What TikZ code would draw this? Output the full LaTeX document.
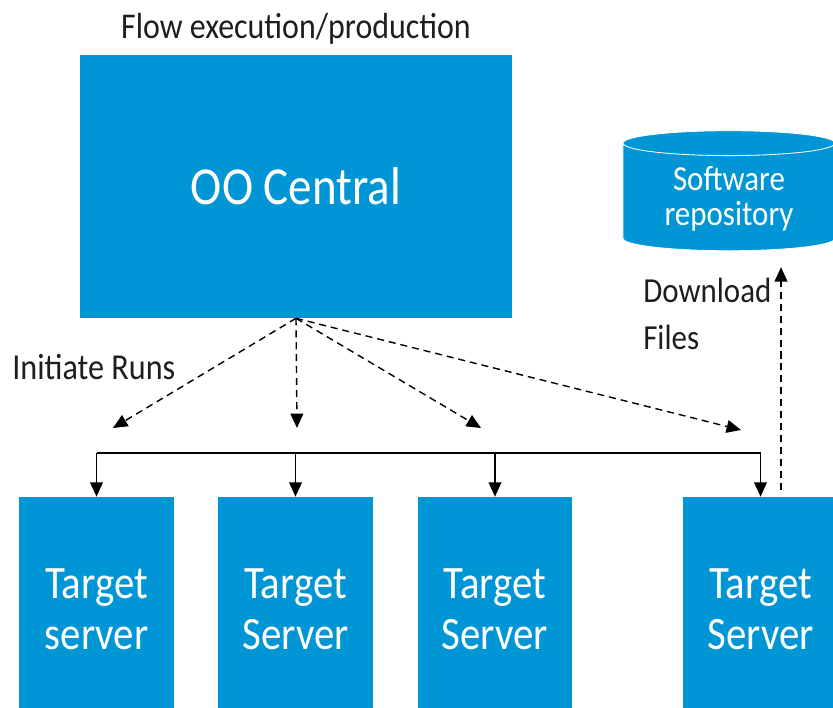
\documentclass[tikz,border=0pt]{standalone}
\usepackage{fontspec}
\setmainfont{Carlito}[FakeStretch=0.88]
\usetikzlibrary{positioning, arrows.meta, shapes.geometric}
\definecolor{hpblue}{RGB}{0,150,214}
\definecolor{txtgray}{RGB}{30,30,30}
\tikzset{
    block/.style={shape=rectangle, fill=hpblue, text=white, align=center},
    server/.style={block, minimum width=3.85cm, minimum height=5.6cm, font=\fontsize{33}{36}\selectfont},
    store/.style={cylinder, shape border rotate=90, aspect=0.18, draw=white, line width=0.6pt,
        fill=hpblue, text=white, align=center, minimum width=5.3cm, minimum height=3.0cm,
        font=\fontsize{25}{25}\selectfont},
    runarrow/.style={draw, dash pattern=on 5pt off 3.5pt, line width=1pt, -{Triangle[length=3.6mm, width=3.2mm]}},
    busarrow/.style={draw, line width=1pt, -{Triangle[length=3.6mm, width=3.2mm]}},
    note/.style={text=txtgray, font=\fontsize{26}{33}\selectfont, inner sep=0pt}
}

\begin{document}
\begin{tikzpicture}[x=0.025cm, y=-0.025cm]
    \useasboundingbox (0,0) rectangle (833,708);

    % nodes
    \node [block, minimum width=10.8cm, minimum height=6.575cm,
           font=\fontsize{38}{40}\selectfont] at (296,186.5) (central) {OO Central};
    \node [note, above=0.25cm of central, font=\fontsize{25.8}{30}\selectfont] (flow) {Flow execution/production};
    \node [store] at (729,199) (repo) {Software\\repository};

    \node [server] at (96.5,609) (t1) {Target\\server};
    \node [server] at (295.5,609) (t2) {Target\\Server};
    \node [server] at (495,609) (t3) {Target\\Server};
    \node [server] at (760.5,609) (t4) {Target\\Server};

    \node [note, anchor=west] at (12,367) (initiate) {Initiate Runs};
    \node [note, anchor=north west, align=left, font=\fontsize{25}{33}\selectfont]
          at (643,278) (download) {Download\\Files};

    % arrow ends
    \coordinate (r1) at (113,428);
    \coordinate (r2) at (297,428);
    \coordinate (r3) at (481,428);
    \coordinate (r4) at (741,430);
    \coordinate (bus) at (0,453);
    \coordinate (dl) at (781,490);

    % draw arrows
    \begin{scope}[runarrow]
        \foreach \r in {r1,r2,r3,r4}
            \draw (central.south) -- (\r);
        \draw [shorten >=0.4cm] (dl) -- (dl |- repo.south);
    \end{scope}
    \draw [line width=1pt] (t1.north |- bus) -- (t4.north |- bus);
    \foreach \t in {t1,t2,t3,t4}
        \draw [busarrow] (\t.north |- bus) -- (\t.north);
\end{tikzpicture}
\end{document}
